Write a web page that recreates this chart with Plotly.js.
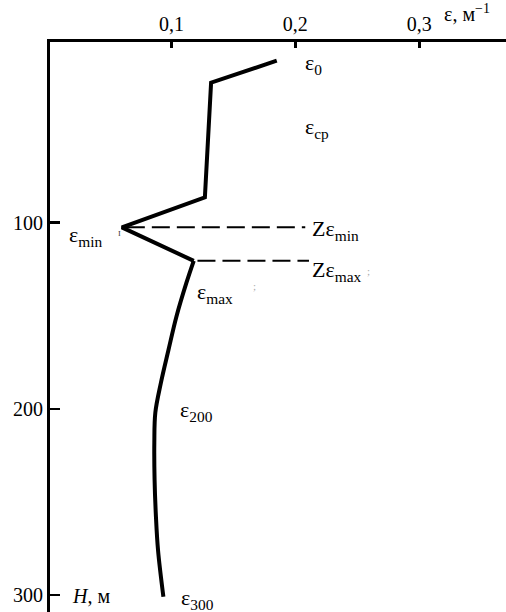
<!DOCTYPE html>
<html>
<head>
<meta charset="utf-8">
<script src="https://cdn.plot.ly/plotly-3.0.1.min.js"></script>
<style>html,body{margin:0;padding:0;background:#fff;}#chart{width:506px;height:612px;}</style>
</head>
<body>
<div id="chart"></div>
<script>
// Profile of epsilon (m^-1) versus depth H (m)
const epsUpper   = [0.185, 0.132, 0.127, 0.060, 0.118];
const depthUpper = [13.0, 24.8, 86.4, 102.5, 120.5];
const epsLower   = [0.118, 0.112, 0.104, 0.0976, 0.0914, 0.0870, 0.0862, 0.0864, 0.0875, 0.0892, 0.0935];
const depthLower = [120.5, 132.5, 150.5, 168.4, 186.3, 202.0, 218.0, 238.0, 258.0, 276.0, 300.9];

// Dashed level lines Z(eps_min), Z(eps_max)
const zMinX = [0.064, 0.208];
const zMinY = [102.5, 102.5];
const zMaxX = [0.121, 0.211];
const zMaxY = [120.5, 120.5];

const xTickVals = [0.1, 0.2, 0.3];
const xTickText = ['0,1', '0,2', '0,3'];
const yTickVals = [100, 200, 300];
const yTickText = ['100', '200', '300'];

const serif = 'Liberation Serif';

const traces = [
  {x: epsUpper, y: depthUpper, mode: 'lines', line: {color: '#000', width: 4}, hoverinfo: 'skip'},
  {x: epsLower, y: depthLower, mode: 'lines', line: {color: '#000', width: 4, shape: 'spline', smoothing: 1}, hoverinfo: 'skip'},
  {x: zMinX, y: zMinY, mode: 'lines', line: {color: '#000', width: 2, dash: '18px,7px'}, hoverinfo: 'skip'},
  {x: zMaxX, y: zMaxY, mode: 'lines', line: {color: '#000', width: 2, dash: '18px,7px'}, hoverinfo: 'skip'}
];

function ann(text, x, y, size, extra) {
  return Object.assign({text: text, x: x, y: y, xref: 'x', yref: 'y', showarrow: false,
    xanchor: 'left', yanchor: 'middle', font: {family: serif, size: size, color: '#000'}}, extra || {});
}

const annotations = [
  ann('ε<sub>0</sub>', 0.206, 15, 22),
  ann('ε<sub>ср</sub>', 0.206, 49, 22),
  ann('ε<sub>min</sub>', 0.016, 107, 22),
  ann('Zε<sub>min</sub>', 0.212, 104, 22),
  ann('Zε<sub>max</sub>', 0.212, 126, 22),
  ann('ε<sub>max</sub>', 0.119, 138, 22),
  ann('ε<sub>200</sub>', 0.105, 201, 22),
  ann('ε<sub>300</sub>', 0.106, 302, 22),
  ann('<i>H</i>, м', 0.018, 300.5, 20),
  {text: 'ε, м<sup>−1</sup>', x: 0.318, y: 1.026, xref: 'x', yref: 'paper', showarrow: false,
   xanchor: 'left', yanchor: 'bottom', font: {family: serif, size: 20, color: '#000'}},
  ann('ɪ', 0.055, 105, 10, {font: {family: serif, size: 10, color: '#444'}}),
  ann(';', 0.164, 134, 11, {font: {family: serif, size: 11, color: '#aaa'}}),
  ann(';', 0.256, 126, 11, {font: {family: serif, size: 11, color: '#aaa'}})
];

const layout = {
  width: 506, height: 612,
  margin: {l: 50, r: 0, t: 42, b: 0, pad: 0},
  paper_bgcolor: '#fff', plot_bgcolor: '#fff',
  showlegend: false,
  xaxis: {
    side: 'top', range: [0.002, 0.370], showgrid: false, zeroline: false,
    showline: true, linecolor: '#000', linewidth: 3,
    ticks: 'inside', ticklen: 6, tickwidth: 2.5, tickcolor: '#000',
    tickvals: xTickVals, ticktext: xTickText,
    tickfont: {family: serif, size: 20, color: '#000'}, fixedrange: true
  },
  yaxis: {
    range: [309.1, 2.95], showgrid: false, zeroline: false,
    showline: true, linecolor: '#000', linewidth: 3,
    ticks: 'inside', ticklen: 10, tickwidth: 2.5, tickcolor: '#000',
    tickvals: yTickVals, ticktext: yTickText,
    tickfont: {family: serif, size: 20, color: '#000'}, fixedrange: true
  },
  annotations: annotations
};

Plotly.newPlot('chart', traces, layout, {displayModeBar: false, staticPlot: true});
</script>
</body>
</html>
